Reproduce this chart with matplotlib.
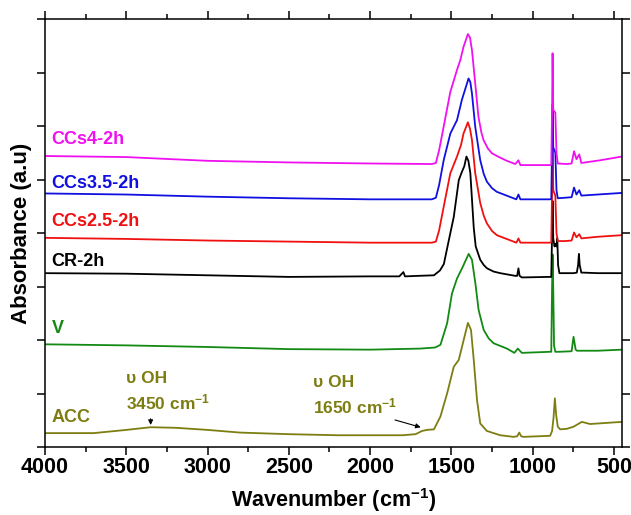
import matplotlib
matplotlib.use("Agg")
import matplotlib.pyplot as plt
from matplotlib.ticker import MultipleLocator

plt.rcParams['font.family'] = ['Liberation Sans', 'DejaVu Sans']
plt.rcParams['font.weight'] = 'bold'
plt.rcParams['mathtext.fontset'] = 'custom'
plt.rcParams['mathtext.rm'] = 'Liberation Sans:bold'
plt.rcParams['mathtext.default'] = 'rm'

# ---------------- data ----------------
wn_ccs4 = [4000, 3500, 3000, 2500, 2000, 1620, 1595, 1575, 1547, 1506, 1465, 1445, 1425, 1398, 1385, 1373,
           1353, 1333, 1315, 1302, 1275, 1250, 1200, 1158, 1107, 1087, 1075, 1066, 892, 885, 880, 877, 873, 860,
           853, 845, 789, 760, 745, 730, 713, 700, 584, 450]
ab_ccs4 = [5.44, 5.42, 5.35, 5.32, 5.30, 5.29, 5.31, 5.55, 5.99, 6.64, 7.05, 7.23, 7.48, 7.72, 7.65, 7.42,
           6.80, 6.17, 5.88, 5.74, 5.58, 5.49, 5.41, 5.35, 5.29, 5.36, 5.27, 5.27, 5.27, 5.28, 6.30, 7.36, 6.30, 6.25,
           5.50, 5.30, 5.29, 5.30, 5.53, 5.38, 5.47, 5.31, 5.36, 5.43]

wn_ccs35 = [4000, 3500, 3000, 2500, 2000, 1620, 1595, 1575, 1547, 1506, 1465, 1435, 1394, 1383, 1373, 1353,
            1322, 1300, 1281, 1250, 1220, 1117, 1100, 1087, 1075, 1066, 892, 885, 880, 877, 873, 860, 853, 845,
            800, 760, 745, 730, 713, 700, 600, 450]
ab_ccs35 = [4.74, 4.72, 4.68, 4.65, 4.63, 4.63, 4.66, 4.90, 5.36, 5.86, 6.11, 6.49, 6.89, 6.82, 6.61, 5.99,
            5.36, 5.10, 4.96, 4.84, 4.77, 4.65, 4.63, 4.72, 4.63, 4.63, 4.63, 4.64, 5.60, 6.40, 5.60, 5.50, 4.80, 4.65,
            4.66, 4.67, 4.85, 4.72, 4.80, 4.70, 4.72, 4.75]

wn_ccs25 = [4000, 3500, 3000, 2500, 2000, 1620, 1595, 1575, 1547, 1506, 1465, 1440, 1425, 1398, 1385, 1373,
            1353, 1322, 1300, 1281, 1250, 1220, 1117, 1100, 1087, 1075, 1066, 892, 885, 880, 877, 873, 860, 853,
            845, 800, 760, 745, 730, 713, 700, 600, 450]
ab_ccs25 = [3.91, 3.89, 3.86, 3.84, 3.82, 3.82, 3.84, 4.05, 4.49, 5.12, 5.43, 5.65, 5.86, 6.07, 5.95, 5.74,
            5.12, 4.56, 4.32, 4.18, 4.04, 3.96, 3.84, 3.82, 3.90, 3.82, 3.82, 3.82, 3.83, 4.80, 5.60, 4.80, 4.70,
            4.00, 3.85, 3.85, 3.86, 4.01, 3.92, 3.98, 3.90, 3.93, 3.96]

wn_cr = [4000, 3500, 3000, 2500, 2000, 1820, 1795, 1785, 1700, 1607, 1570, 1546, 1515, 1485, 1454, 1434,
         1420, 1407, 1395, 1383, 1362, 1350, 1322, 1300, 1280, 1240, 1199, 1107, 1095, 1087, 1080, 1066, 902,
         885, 880, 877, 873, 865, 860, 853, 848, 843, 835, 790, 748, 728, 720, 715, 710, 700, 687, 600, 450]
ab_cr = [3.25, 3.24, 3.21, 3.18, 3.19, 3.19, 3.27, 3.19, 3.20, 3.21, 3.30, 3.42, 3.87, 4.30, 4.99, 5.15,
         5.25, 5.43, 5.35, 5.12, 4.10, 3.75, 3.50, 3.40, 3.34, 3.28, 3.25, 3.20, 3.20, 3.34, 3.20, 3.17, 3.18,
         3.18, 4.00, 4.60, 3.90, 3.75, 3.80, 3.75, 3.90, 3.40, 3.25, 3.25, 3.25, 3.26, 3.40, 3.61, 3.40, 3.26, 3.26,
         3.25, 3.25]

wn_v = [4000, 3500, 3000, 2500, 2000, 1691, 1600, 1567, 1526, 1496, 1465, 1434, 1410, 1393, 1373, 1352, 1332,
        1301, 1270, 1240, 1158, 1112, 1091, 1066, 892, 885, 880, 877, 873, 868, 860, 840, 760, 748, 735, 727,
        600, 450]
ab_v = [1.92, 1.90, 1.87, 1.83, 1.82, 1.84, 1.86, 1.91, 2.31, 2.87, 3.15, 3.34, 3.50, 3.61, 3.50, 3.06, 2.56,
        2.19, 2.03, 1.94, 1.84, 1.76, 1.84, 1.76, 1.78, 1.78, 3.00, 3.60, 3.00, 1.90, 1.78, 1.78, 1.79, 2.06, 1.82,
        1.80, 1.80, 1.82]

wn_acc = [4000, 3700, 3500, 3350, 3200, 3000, 2800, 2500, 2200, 1800, 1720, 1680, 1650, 1607, 1567, 1526,
          1485, 1454, 1424, 1398, 1379, 1362, 1342, 1322, 1281, 1199, 1117, 1095, 1082, 1070, 1055, 892, 880,
          871, 863, 855, 845, 830, 790, 748, 697, 646, 550, 450]
ab_acc = [0.26, 0.26, 0.32, 0.37, 0.36, 0.32, 0.27, 0.24, 0.22, 0.22, 0.24, 0.30, 0.32, 0.33, 0.57, 1.00,
          1.50, 1.63, 2.00, 2.32, 2.19, 1.63, 0.88, 0.44, 0.30, 0.22, 0.19, 0.20, 0.27, 0.20, 0.19, 0.21, 0.30,
          0.55, 0.91, 0.60, 0.38, 0.33, 0.34, 0.38, 0.47, 0.43, 0.45, 0.47]

series_names = ["ACC", "V", "CR-2h", "CCs2.5-2h", "CCs3.5-2h", "CCs4-2h"]
series_wn = [wn_acc, wn_v, wn_cr, wn_ccs25, wn_ccs35, wn_ccs4]
series_ab = [ab_acc, ab_v, ab_cr, ab_ccs25, ab_ccs35, ab_ccs4]
label_y = [0.56, 2.22, 3.46, 4.22, 4.93, 5.74]

colors = ["#7d7d12", "#138a13", "#000000", "#f01010", "#1010e0", "#f010f0"]

# ---------------- figure ----------------
fig = plt.figure(figsize=(6.31, 5.15), dpi=100)
ax = fig.add_axes([0.0713, 0.132, 0.9144, 0.831])

for wn, ab, c in zip(series_wn, series_ab, colors):
    ax.plot(wn, ab, color=c, lw=1.3)

for name, y, c in zip(series_names, label_y, colors):
    ax.text(3960, y, name, color=c, fontsize=13, fontweight='bold', ha='left', va='center')

ax.set_xlim(4000, 450)
ax.set_ylim(0, 8)
ax.xaxis.set_major_locator(MultipleLocator(500))
ax.xaxis.set_minor_locator(MultipleLocator(250))
ax.yaxis.set_major_locator(MultipleLocator(1))
ax.tick_params(axis='both', which='both', direction='out', top=True, right=True, width=1.1)
ax.tick_params(axis='both', which='major', length=5.8)
ax.tick_params(axis='both', which='minor', length=3.6)
ax.tick_params(axis='x', labelsize=15.5, pad=1.5)
ax.tick_params(axis='y', labelleft=False)
for lab in ax.get_xticklabels():
    lab.set_fontweight('bold')
for s in ax.spines.values():
    s.set_linewidth(1.1)

ax.set_xlabel('Wavenumber (cm$^{-1}$)', fontsize=15.5, fontweight='bold')
ax.xaxis.set_label_coords(0.5, -0.092)
ax.set_ylabel('Absorbance (a.u)', fontsize=16, fontweight='bold')
ax.yaxis.set_label_coords(-0.022, 0.5)

acc_c = colors[0]
ax.text(3504, 1.29, '\u03c5 OH', color=acc_c, fontsize=12.5, fontweight='bold', ha='left', va='center')
ax.text(3504, 0.84, '3450 cm$^{-1}$', color=acc_c, fontsize=12.5, fontweight='bold', ha='left', va='center')
ax.annotate('', xy=(3350, 0.36), xytext=(3350, 0.58),
            arrowprops=dict(arrowstyle='-|>', color='black', lw=0.8, mutation_scale=7))
ax.text(2348, 1.20, '\u03c5 OH', color=acc_c, fontsize=12.5, fontweight='bold', ha='left', va='center')
ax.text(2348, 0.75, '1650 cm$^{-1}$', color=acc_c, fontsize=12.5, fontweight='bold', ha='left', va='center')
ax.annotate('', xy=(1672, 0.355), xytext=(1863, 0.52),
            arrowprops=dict(arrowstyle='-|>', color='black', lw=0.8, mutation_scale=7))

fig.savefig('out.png', dpi=100)
